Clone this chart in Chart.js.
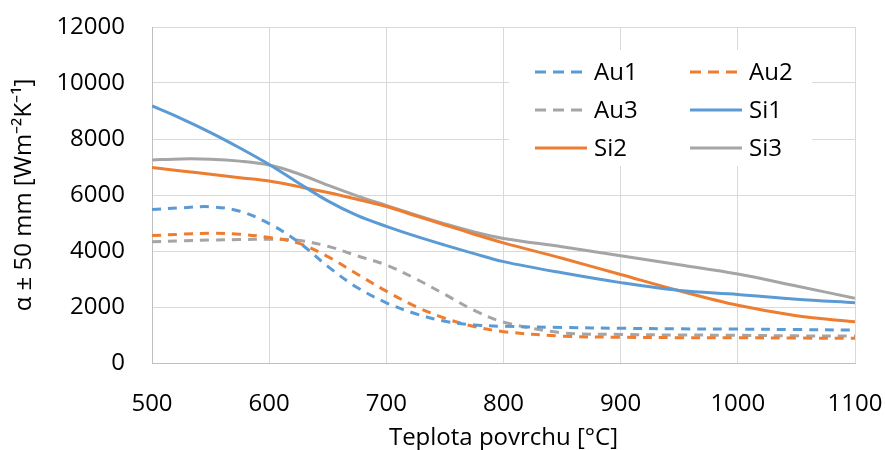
<!DOCTYPE html>
<html>
<head>
<meta charset="utf-8">
<script src="https://cdn.jsdelivr.net/npm/chart.js@4"></script>
<style>
html,body{margin:0;padding:0;background:#fff;}
#wrap{width:885px;height:450px;}
</style>
</head>
<body>
<div id="wrap"><canvas id="c" width="885" height="450"></canvas></div>
<script>
const temps = [500,525,550,575,600,625,650,675,700,725,750,775,800,850,900,950,1000,1050,1100];
const au1 = [5480,5540,5580,5420,4980,4320,3450,2700,2150,1760,1490,1360,1310,1270,1240,1220,1210,1195,1175];
const au2 = [4550,4600,4630,4600,4480,4280,3800,3180,2565,2020,1600,1300,1120,960,920,905,900,890,880];
const au3 = [4330,4360,4390,4410,4420,4380,4170,3830,3500,3010,2450,1880,1460,1080,1020,1000,990,970,960];
const si1 = [9180,8730,8230,7680,7090,6430,5790,5270,4880,4530,4210,3905,3620,3220,2870,2590,2450,2280,2150];
const si2 = [6980,6860,6740,6620,6500,6300,6090,5850,5590,5260,4930,4600,4290,3740,3160,2580,2060,1690,1470];
const si3 = [7250,7290,7280,7210,7070,6760,6350,5970,5630,5290,4970,4680,4450,4150,3830,3510,3180,2750,2310];
const seriesNames = ["Au1","Au2","Au3","Si1","Si2","Si3"];
const yTicks = [0,2000,4000,6000,8000,10000,12000];
const xTicks = [500,600,700,800,900,1000,1100];

const BLUE = "#5B9BD5", ORANGE = "#ED7D31", GRAY = "#A5A5A5";
const FONT = "'Open Sans', sans-serif";

function pts(arr){ return temps.map((t,i)=>({x:t,y:arr[i]})); }
function ds(label, arr, color, dashed){
  return {label, data: pts(arr), borderColor: color, backgroundColor: color,
    borderWidth: 3, borderDash: dashed ? [9,7] : [], pointRadius: 0,
    tension: 0.35, fill: false};
}

const legendPlugin = {
  id: 'insideLegend',
  beforeDatasetsDraw(chart){
    const ctx = chart.ctx;
    ctx.save();
    ctx.fillStyle = '#fff';
    ctx.fillRect(509, 50, 303, 116);
    const cols = [535, 690];
    const rows = [72, 110, 148];
    ctx.font = "24px " + FONT;
    ctx.textBaseline = 'middle';
    ctx.textAlign = 'left';
    chart.data.datasets.forEach((d, i) => {
      const cx = cols[i % 2], cy = rows[Math.floor(i / 2)];
      ctx.strokeStyle = d.borderColor;
      ctx.lineWidth = 3;
      ctx.setLineDash(d.borderDash.length ? [11,7] : []);
      ctx.beginPath();
      ctx.moveTo(cx, cy); ctx.lineTo(cx + 52, cy);
      ctx.stroke();
      ctx.setLineDash([]);
      ctx.fillStyle = '#000';
      ctx.fillText(d.label, cx + 59, cy + 1);
    });
    ctx.restore();
  }
};

new Chart(document.getElementById('c'), {
  type: 'line',
  data: {
    datasets: [
      ds(seriesNames[0], au1, BLUE, true),
      ds(seriesNames[1], au2, ORANGE, true),
      ds(seriesNames[2], au3, GRAY, true),
      ds(seriesNames[3], si1, BLUE, false),
      ds(seriesNames[4], si2, ORANGE, false),
      ds(seriesNames[5], si3, GRAY, false)
    ]
  },
  options: {
    responsive: false,
    animation: false,
    events: [],
    layout: { padding: { top: 27, right: 30, left: 0, bottom: 0 } },
    plugins: { legend: { display: false }, tooltip: { enabled: false } },
    scales: {
      x: {
        type: 'linear', min: 500, max: 1100,
        afterBuildTicks: s => { s.ticks = xTicks.map(v => ({value: v})); },
        afterFit: s => { s.height = 87; },
        grid: { color: '#d9d9d9', lineWidth: 1, drawTicks: true, tickLength: 27, tickColor: 'rgba(0,0,0,0)' },
        border: { color: '#bfbfbf', width: 1 },
        ticks: { color: '#000', font: { family: FONT, size: 24 }, padding: 0, maxRotation: 0, autoSkip: false,
          callback: v => String(v) },
        title: { display: true, text: 'Teplota povrchu [°C]', color: '#000',
          font: { family: FONT, size: 24, lineHeight: 1.2 }, padding: { top: 0, bottom: -3 } }
      },
      y: {
        min: 0, max: 12000,
        afterBuildTicks: s => { s.ticks = yTicks.map(v => ({value: v})); },
        afterFit: s => { s.width = 152; },
        grid: { color: '#d9d9d9', lineWidth: 1, drawTicks: true, tickLength: 27, tickColor: 'rgba(0,0,0,0)' },
        border: { color: '#bfbfbf', width: 1 },
        ticks: { color: '#000', font: { family: FONT, size: 24 }, padding: 0, callback: v => String(v) },
        title: { display: true, text: 'α ± 50 mm [Wm⁻²K⁻¹]', color: '#000',
          font: { family: FONT, size: 24, lineHeight: 1.2 }, padding: { top: 10, bottom: 0 } }
      }
    }
  },
  plugins: [legendPlugin]
});
</script>
</body>
</html>
